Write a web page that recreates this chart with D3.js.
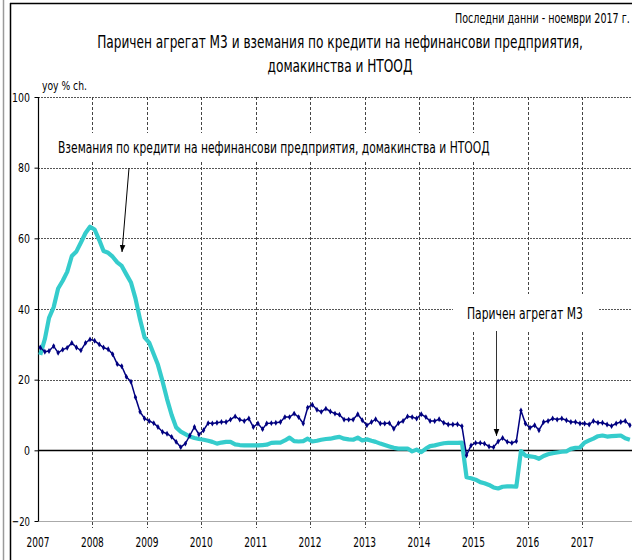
<!DOCTYPE html>
<html><head><meta charset="utf-8">
<script src="https://cdn.jsdelivr.net/npm/d3@7"></script>
<style>
body{margin:0;background:#fff}
svg{display:block}
text{font-family:"Liberation Sans Narrow","Arial Narrow","DejaVu Sans Condensed",sans-serif;fill:#000}
</style>
</head><body>
<svg id="c" width="632" height="560"></svg>
<script>
const title1 = "Паричен агрегат М3 и вземания по кредити на нефинансови предприятия,";
const title2 = "домакинства и НТООД";
const subtitle = "Последни данни - ноември 2017 г.";
const yUnit = "yoy % ch.";
const labelCredit = "Вземания по кредити на нефинансови предприятия, домакинства и НТООД";
const labelM3 = "Паричен агрегат М3";
const years = [2007,2008,2009,2010,2011,2012,2013,2014,2015,2016,2017];
const yTicks = [-20,0,20,40,60,80,100];
const startYear = 2007;
const m3 = [
 29.1,27.9,28.1,29.5,27.6,28.5,29.0,30.4,29.1,28.3,30.4,31.4,
 31.0,30.0,29.1,28.6,27.2,24.4,23.8,20.8,19.4,15.0,10.9,9.0,
 8.3,7.7,6.6,5.2,4.7,3.8,2.4,0.9,1.9,4.2,6.6,4.5,
 5.7,7.7,7.6,7.8,8.0,8.0,8.7,9.6,8.7,8.3,9.0,6.6,
 7.6,6.0,7.6,7.7,7.8,8.0,9.4,9.4,10.4,9.4,7.6,12.1,
 12.9,11.5,10.9,11.8,11.0,10.4,10.1,8.7,8.7,8.7,10.2,8.5,
 7.1,8.0,8.8,7.6,7.6,7.7,6.1,7.7,8.3,9.6,9.4,9.0,
 10.2,9.4,8.3,8.3,8.8,7.8,7.3,7.3,7.4,6.8,-1.4,1.4,
 2.1,2.1,1.9,1.1,0.9,2.5,3.5,2.4,2.1,2.6,11.3,7.6,
 6.4,7.1,5.7,8.0,8.3,9.0,8.7,9.0,8.5,8.0,8.0,7.6,
 7.6,7.3,8.3,7.8,7.8,7.3,6.9,7.6,8.0,8.3,7.1
];
const credit = [
 27.0,31.5,37.5,40.5,45.8,48.0,50.5,55.0,56.3,58.8,61.5,63.3,
 62.5,59.5,56.4,55.9,54.8,53.2,52.2,49.8,47.5,43.0,37.0,32.0,
 30.5,27.2,24.2,19.5,14.5,10.0,6.5,5.3,4.6,3.9,3.5,3.2,
 3.0,2.7,2.4,1.9,2.2,2.4,2.4,1.7,1.5,1.4,1.4,1.4,
 1.4,1.5,1.6,2.1,2.2,2.2,2.8,3.6,2.6,2.5,2.6,3.3,
 2.5,2.7,3.0,3.2,3.3,3.6,3.8,3.3,3.1,3.0,3.6,2.8,
 3.1,2.7,2.4,1.9,1.5,1.1,0.7,0.5,0.5,0.5,-0.3,0.2,
 -0.5,0.5,1.2,1.4,1.7,2.0,2.1,2.1,2.1,2.2,-7.6,-7.9,
 -8.3,-9.0,-9.3,-9.8,-10.5,-10.8,-10.3,-10.2,-10.2,-10.3,-0.2,-1.5,
 -1.7,-1.9,-2.4,-1.6,-1.1,-0.8,-0.6,-0.4,-0.3,0.4,0.7,0.8,
 2.2,2.8,3.3,4.0,4.2,3.9,4.0,4.1,4.2,3.4,3.0
];

(function(){
const svg = d3.select("#c");
const W = 632, H = 560;
const pL = 38, pT = 97, pB = 521, yearW = 54.43;
const x = d3.scaleTime()
  .domain([new Date(startYear,0,1), new Date(startYear+11,0,1)])
  .range([pL, pL + 11*yearW]);
const y = d3.scaleLinear().domain([-20,100]).range([pB, pT]);
const dateOf = i => new Date(startYear, i, 16);

// narrow text: horizontally scaled to the target width
function txt(str, xx, yy, size, len, anchor) {
  const t = svg.append("text").attr("font-size",size)
    .attr("text-anchor",anchor||"start").text(str);
  const nat = t.node().getComputedTextLength();
  const s = Math.min(1, len/nat);
  t.attr("transform",`translate(${xx},${yy}) scale(${s},1)`);
  return t;
}

// outer frame
svg.append("line").attr("x1",3.5).attr("x2",3.5).attr("y1",0).attr("y2",H).attr("stroke","#9a9a9a").attr("stroke-width",1.5);
svg.append("line").attr("x1",10.5).attr("x2",10.5).attr("y1",3).attr("y2",H).attr("stroke","#000").attr("stroke-width",1.5);
svg.append("line").attr("x1",10).attr("x2",W).attr("y1",3.5).attr("y2",3.5).attr("stroke","#000").attr("stroke-width",1.5);

// titles
txt(subtitle, 455, 23, 13.5, 175);
txt(title1, 340, 48, 18, 486, "middle");
txt(title2, 340, 72, 18, 145, "middle");
txt(yUnit, 42, 90, 11.5, 45);

// horizontal grid
const g = svg.append("g");
yTicks.forEach(t => {
  if (t === 0) return;
  g.append("line").attr("x1",pL).attr("x2",W).attr("y1",Math.round(y(t))+0.5).attr("y2",Math.round(y(t))+0.5)
   .attr("stroke", t===-20 ? "#aaaaaa" : "#555").attr("stroke-width",1)
   .attr("stroke-dasharray", t===-20 ? null : "2,1");
});
// vertical grid
years.forEach(yr => {
  if (yr === startYear) return;
  const xx = Math.round(x(new Date(yr,0,1)))+0.5;
  g.append("line").attr("x1",xx).attr("x2",xx).attr("y1",pT).attr("y2",pB+7)
   .attr("stroke","#444").attr("stroke-width",1).attr("stroke-dasharray","3,2");
});

// y axis (line + ticks via axis; labels narrowed)
const ya = svg.append("g").attr("transform",`translate(${pL+0.5},0)`)
  .call(d3.axisLeft(y).tickValues(yTicks).tickSize(4).tickFormat(""));
ya.select(".domain").attr("d",`M0,${pT}V${pB}`).attr("stroke","#000").attr("stroke-width",1.2);
ya.selectAll(".tick line").attr("stroke","#000");
ya.selectAll(".tick text").remove();
yTicks.forEach(t => txt(d3.format("d")(t), 30, y(t)+4.5, 13, String(t).length*6, "end"));

// x axis labels
years.forEach(yr => txt(d3.timeFormat("%Y")(new Date(yr,0,1)), x(new Date(yr,0,1)), pB+26, 13.5, 23, "middle"));

// zero line
svg.append("line").attr("x1",pL).attr("x2",W).attr("y1",Math.round(y(0))+0.5).attr("y2",Math.round(y(0))+0.5)
  .attr("stroke","#000").attr("stroke-width",1.3);

// annotation label boxes (white background)
svg.append("rect").attr("x",50).attr("y",133).attr("width",448).attr("height",28).attr("fill","#fff");
svg.append("rect").attr("x",453).attr("y",294).attr("width",145).attr("height",36).attr("fill","#fff");

// series
const line = d3.line().x((d,i)=>x(dateOf(i))).y(d=>y(d));
svg.append("path").datum(credit).attr("d",line).attr("fill","none")
  .attr("stroke","#35cccc").attr("stroke-width",4.2).attr("stroke-linejoin","round");
svg.append("path").datum(m3).attr("d",line).attr("fill","none")
  .attr("stroke","#000080").attr("stroke-width",1.5);
svg.append("g").selectAll("path").data(m3).join("path")
  .attr("transform",(d,i)=>`translate(${x(dateOf(i))},${y(d)})`)
  .attr("d", d3.symbol(d3.symbolDiamond, 10)).attr("fill","#000080");

// annotations
svg.append("defs").append("marker").attr("id","ah").attr("viewBox","0 0 10 10")
  .attr("refX",10).attr("refY",5).attr("markerWidth",7).attr("markerHeight",7).attr("orient","auto")
  .append("path").attr("d","M0,1L10,5L0,9Z").attr("fill","#000");
txt(labelCredit, 58, 153, 15.5, 432);
svg.append("line").attr("x1",129).attr("y1",168).attr("x2",122).attr("y2",252)
  .attr("stroke","#000").attr("stroke-width",1).attr("marker-end","url(#ah)");
txt(labelM3, 467, 319, 15.5, 116);
svg.append("line").attr("x1",496.5).attr("y1",331).attr("x2",496.5).attr("y2",436)
  .attr("stroke","#333").attr("stroke-width",1).attr("marker-end","url(#ah)");
})();
</script>
</body></html>
